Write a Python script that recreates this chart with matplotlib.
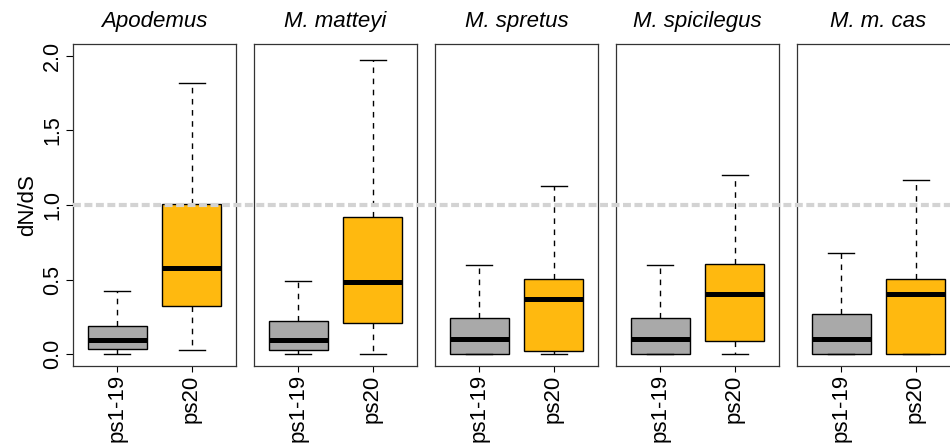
import matplotlib
matplotlib.use("Agg")
import matplotlib.pyplot as plt
from matplotlib.lines import Line2D
import matplotlib.transforms as mtransforms

plt.rcParams['font.family'] = ['Liberation Sans', 'DejaVu Sans']

# ---- data ----
species = ["Apodemus", "M. matteyi", "M. spretus", "M. spicilegus", "M. m. cas"]
groups = ["ps1-19", "ps20"]

# per species: [ps1-19, ps20] -> (whislo, q1, med, q3, whishi)
apodemus = [(0.0, 0.035, 0.095, 0.19, 0.42), (0.03, 0.32, 0.575, 1.01, 1.82)]
matteyi = [(0.0, 0.03, 0.095, 0.22, 0.49), (0.0, 0.21, 0.485, 0.92, 1.97)]
spretus = [(0.0, 0.0, 0.10, 0.24, 0.60), (0.0, 0.02, 0.37, 0.505, 1.13)]
spicilegus = [(0.0, 0.0, 0.10, 0.24, 0.60), (0.0, 0.09, 0.405, 0.605, 1.20)]
mmcas = [(0.0, 0.0, 0.10, 0.27, 0.68), (0.0, 0.0, 0.40, 0.505, 1.17)]
all_stats = [apodemus, matteyi, spretus, spicilegus, mmcas]

box_colors = ["#A9A9A9", "#FFB90F"]

W, H = 950, 447
fig = plt.figure(figsize=(W / 100, H / 100), dpi=100)

left0, pw, gap = 73, 163, 18
top, bottom = 44, 366

axes = []
for i, (name, stats) in enumerate(zip(species, all_stats)):
    x0 = left0 + i * (pw + gap)
    ax = fig.add_axes([x0 / W, 1 - bottom / H, pw / W, (bottom - top) / H])
    bstats = []
    for g, s in zip(groups, stats):
        bstats.append({"label": g, "whislo": s[0], "q1": s[1], "med": s[2],
                       "q3": s[3], "whishi": s[4], "fliers": []})
    res = ax.bxp(bstats, positions=[1, 2], widths=0.8, capwidths=0.35,
                 patch_artist=True, showfliers=False,
                 boxprops=dict(edgecolor="black", linewidth=1.0),
                 medianprops=dict(color="black", linewidth=3.6, solid_capstyle="butt"),
                 whiskerprops=dict(color="black", linewidth=1.0, linestyle=(0, (4, 4))),
                 capprops=dict(color="black", linewidth=1.0))
    for patch, c in zip(res["boxes"], box_colors):
        patch.set_facecolor(c)

    ax.set_xlim(0.4, 2.6)
    ax.set_ylim(-0.08, 2.08)
    ax.set_title(name, style="italic", fontsize=16, pad=12)
    ax.set_xticks([1, 2])
    ax.set_xticklabels(groups, rotation=90, fontsize=16)
    ax.tick_params(axis="x", length=4, width=0.8, pad=2)
    for sp in ax.spines.values():
        sp.set_color("#333333")
        sp.set_linewidth(0.9)
    if i == 0:
        ax.set_yticks([0.0, 0.5, 1.0, 1.5, 2.0])
        ax.set_yticklabels(["0.0", "0.5", "1.0", "1.5", "2.0"], rotation=90,
                           va="center", fontsize=15.5)
        ax.tick_params(axis="y", length=5, width=0.8, pad=2)
        ax.set_ylabel("dN/dS", fontsize=16, labelpad=3)
    else:
        ax.set_yticks([])
    axes.append(ax)

# dashed reference line at dN/dS = 1 across all panels
trans = mtransforms.blended_transform_factory(fig.transFigure, axes[0].transData)
fig.add_artist(Line2D([left0 / W, 1.0], [1.0, 1.0], transform=trans,
                      color="#D3D3D3", linewidth=3.0, linestyle=(0, (1.9, 0.85)),
                      dash_capstyle="butt"))

fig.savefig("out.png", dpi=100)
